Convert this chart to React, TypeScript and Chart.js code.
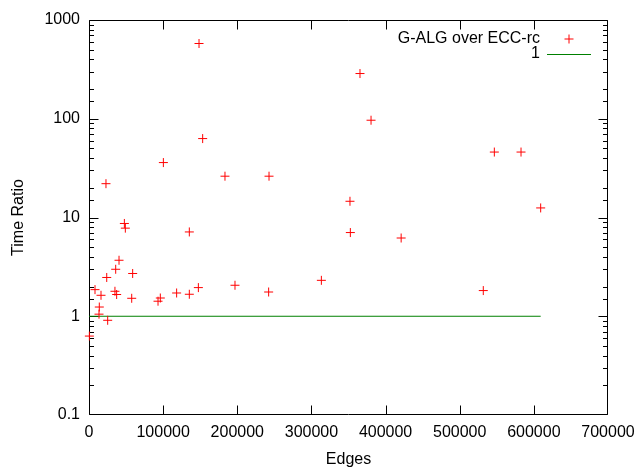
import React, { useEffect, useRef } from 'react';
import { Chart, registerables } from 'chart.js';

Chart.register(...registerables);

// ---- data ----
const edges = [
  500, 8100, 16200, 13900, 13500, 25200, 23900, 22900, 36000, 40500,
  35000, 37300, 47700, 49000, 58900, 57600, 100300, 93100, 96200, 118200,
  135300, 135300, 147500, 183400, 196900, 242800, 242300, 148400, 153300, 313400,
  352000, 352500, 365500, 380400, 421000, 531800, 546700, 582700, 609200,
];
const timeRatio = [
  0.63, 1.86, 1.63, 1.24, 1.05, 0.91, 2.47, 22, 2.99, 3.69,
  1.79, 1.66, 8.7, 7.8, 2.71, 1.52, 36, 1.42, 1.53, 1.72,
  7.14, 1.67, 1.95, 26.2, 2.06, 26.2, 1.76, 578, 63, 2.31,
  14.6, 7.04, 287, 96.6, 6.2, 1.82, 46, 46, 12.5,
];
const refLineEdges = [0, 609200];
const refLineValues = [1, 1];

const xTickValues = [0, 100000, 200000, 300000, 400000, 500000, 600000, 700000];
const xTickLabels = ['0', '100000', '200000', '300000', '400000', '500000', '600000', '700000'];
const yTickValues = [0.1, 1, 10, 100, 1000];
const yTickLabels = ['0.1', '1', '10', '100', '1000'];

const seriesLabel = 'G-ALG over ECC-rc';
const refLabel = '1';
const xTitle = 'Edges';
const yTitle = 'Time Ratio';

const FONT = '"Liberation Sans", Arial, Helvetica, sans-serif';

const yLabelIndex = (v: number) =>
  yTickValues.findIndex((t) => Math.abs(Math.log10(t) - Math.log10(v)) < 1e-6);

// gnuplot-like frame with inward ticks on all four sides
const framePlugin = {
  id: 'gnuFrame',
  beforeDatasetsDraw(chart: any) {
    const { ctx, chartArea: a, scales } = chart;
    const xs = scales.x;
    const ys = scales.y;
    const L = a.left + 0.5;
    const R = a.right - 0.5;
    const T = a.top + 0.5;
    const B = a.bottom - 0.5;
    const clampX = (v: number) => Math.min(R, Math.max(L, v));
    const clampY = (v: number) => Math.min(B, Math.max(T, v));
    ctx.save();
    ctx.strokeStyle = '#000';
    ctx.lineWidth = 1;
    ctx.beginPath();
    ctx.rect(L, T, R - L, B - T);
    for (const t of xs.ticks) {
      const px = clampX(Math.round(xs.getPixelForValue(t.value)) + 0.5);
      ctx.moveTo(px, B);
      ctx.lineTo(px, B - 9);
      ctx.moveTo(px, T);
      ctx.lineTo(px, T + 9);
    }
    for (const t of ys.ticks) {
      const py = clampY(Math.round(ys.getPixelForValue(t.value)) + 0.5);
      const len = yLabelIndex(t.value) >= 0 ? 9 : 4.5;
      ctx.moveTo(L, py);
      ctx.lineTo(L + len, py);
      ctx.moveTo(R, py);
      ctx.lineTo(R - len, py);
    }
    ctx.stroke();
    ctx.restore();
  },
};

// gnuplot-like key: right-aligned text, sample to the right
const keyPlugin = {
  id: 'gnuKey',
  afterDraw(chart: any) {
    const { ctx, chartArea: a } = chart;
    const textRight = a.right - 68;
    const sampleL = a.right - 61;
    const sampleR = a.right - 17;
    const cx = (sampleL + sampleR) / 2;
    ctx.save();
    ctx.font = `16px ${FONT}`;
    ctx.textAlign = 'right';
    ctx.textBaseline = 'middle';
    chart.data.datasets.forEach((ds: any, i: number) => {
      const y = a.top + 19 + i * 15;
      ctx.fillStyle = '#000';
      ctx.fillText(ds.label, textRight, y);
      ctx.strokeStyle = ds.borderColor;
      ctx.lineWidth = 1;
      ctx.beginPath();
      if (ds.showLine) {
        ctx.moveTo(sampleL, Math.round(y) + 0.5);
        ctx.lineTo(sampleR, Math.round(y) + 0.5);
      } else {
        const r = ds.pointRadius;
        ctx.moveTo(cx - r, y);
        ctx.lineTo(cx + r, y);
        ctx.moveTo(cx, y - r);
        ctx.lineTo(cx, y + r);
      }
      ctx.stroke();
    });
    ctx.restore();
  },
};

export default function App() {
  const ref = useRef<HTMLCanvasElement | null>(null);

  useEffect(() => {
    if (!ref.current) return;
    Chart.defaults.font.family = FONT;
    const chart = new Chart(ref.current, {
      type: 'scatter',
      data: {
        datasets: [
          {
            label: seriesLabel,
            data: edges.map((x, i) => ({ x, y: timeRatio[i] })),
            pointStyle: 'cross',
            pointRadius: 4.5,
            pointHoverRadius: 4.5,
            borderColor: '#ff0000',
            backgroundColor: '#ff0000',
            borderWidth: 1,
            showLine: false,
            clip: false,
          } as any,
          {
            label: refLabel,
            data: refLineEdges.map((x, i) => ({ x, y: refLineValues[i] })),
            showLine: true,
            borderColor: '#008000',
            backgroundColor: '#008000',
            borderWidth: 1,
            pointRadius: 0,
            pointHoverRadius: 0,
          } as any,
        ],
      },
      options: {
        animation: false,
        responsive: false,
        events: [],
        layout: { padding: { top: 20, right: 28, bottom: 0, left: 0 } },
        plugins: {
          legend: { display: false },
          tooltip: { enabled: false },
        },
        scales: {
          x: {
            type: 'linear',
            min: 0,
            max: 700000,
            afterBuildTicks: (s: any) => {
              s.ticks = xTickValues.map((value) => ({ value }));
            },
            afterFit: (s: any) => {
              s.height = 53;
              s.paddingLeft = 0;
              s.paddingRight = 0;
            },
            grid: { display: false, drawTicks: false },
            border: { display: false },
            ticks: {
              autoSkip: false,
              maxRotation: 0,
              padding: 8,
              color: '#000',
              font: { family: FONT, size: 16 },
              callback: (v: any) => {
                const i = xTickValues.indexOf(Number(v));
                return i >= 0 ? xTickLabels[i] : '';
              },
            },
            title: {
              display: true,
              text: xTitle,
              color: '#000',
              font: { family: FONT, size: 16, lineHeight: 1 },
              padding: { top: 0, bottom: 0 },
            },
          },
          y: {
            type: 'logarithmic',
            min: 0.1,
            max: 1000,
            afterFit: (s: any) => {
              s.width = 89;
              s.paddingTop = 0;
              s.paddingBottom = 0;
            },
            grid: { display: false, drawTicks: false },
            border: { display: false },
            ticks: {
              autoSkip: false,
              padding: 9,
              color: '#000',
              font: { family: FONT, size: 16 },
              callback: (v: any) => {
                const i = yLabelIndex(Number(v));
                return i >= 0 ? yTickLabels[i] : '';
              },
            },
            title: {
              display: true,
              text: yTitle,
              color: '#000',
              font: { family: FONT, size: 16, lineHeight: 1 },
              padding: { top: 11, bottom: 0 },
            },
          },
        },
      },
      plugins: [framePlugin, keyPlugin],
    });
    return () => chart.destroy();
  }, []);

  return (
    <div style={{ position: 'absolute', left: 0, top: 0, width: 636, height: 468, background: '#fff' }}>
      <canvas ref={ref} width={636} height={468} style={{ display: 'block' }} />
    </div>
  );
}
